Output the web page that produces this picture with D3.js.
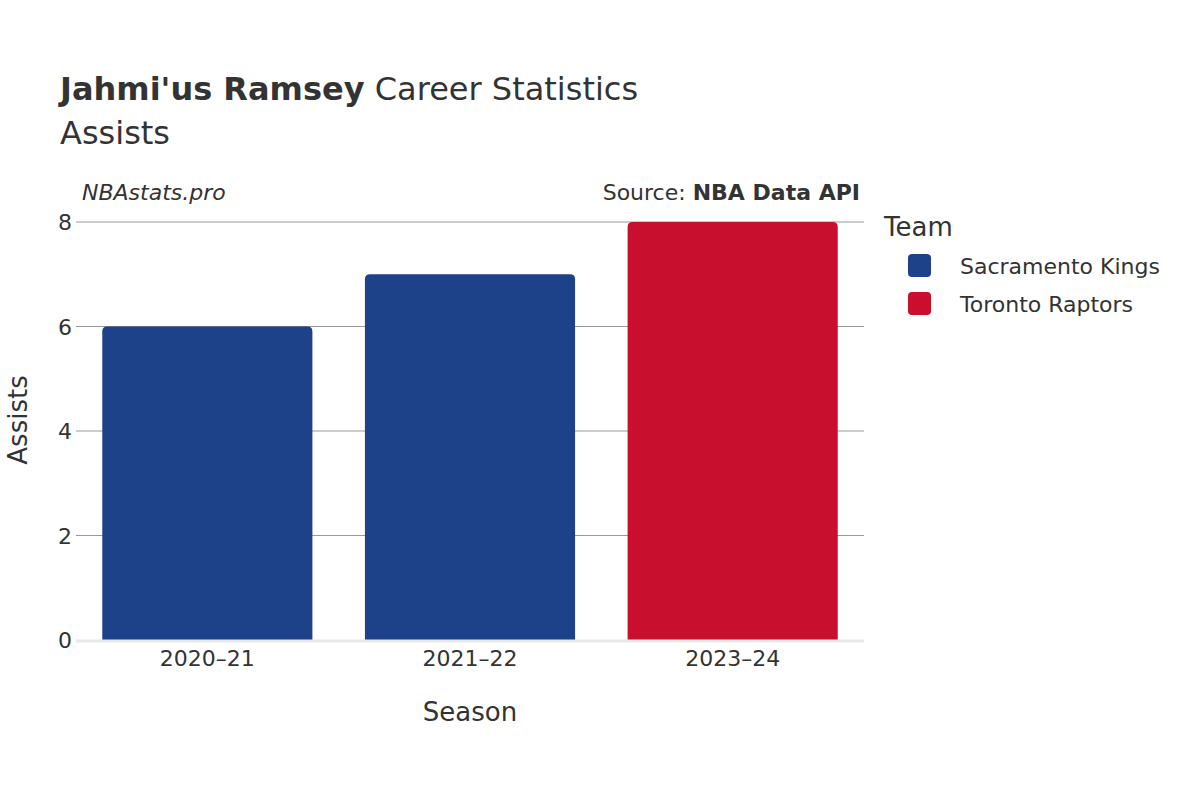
<!DOCTYPE html>
<html><head><meta charset="utf-8">
<script src="https://cdn.jsdelivr.net/npm/d3@7"></script>
<style>body{margin:0;background:#fff}text{font-family:"DejaVu Sans",sans-serif;fill:#333}</style>
</head><body>
<svg id="c" width="1200" height="800"></svg>
<script>
const seasons = ["2020–21","2021–22","2023–24"];
const assists = [6,7,8];
const teams = ["Sacramento Kings","Sacramento Kings","Toronto Raptors"];
const legendTeams = ["Sacramento Kings","Toronto Raptors"];
const teamColors = ["#1d428a","#c8102e"];
const yTicks = [0,2,4,6,8];

const svg = d3.select("#c");
const L=76,R=864,T=222,B=640;
const x = d3.scaleBand().domain(seasons).range([L,R]).paddingInner(0.2).paddingOuter(0.1);
const y = d3.scaleLinear().domain([0,8]).range([B,T]);
const color = d3.scaleOrdinal().domain(legendTeams).range(teamColors);

svg.append("g").selectAll("line").data(yTicks.filter(d=>d>0)).join("line")
 .attr("x1",L).attr("x2",R).attr("y1",d=>y(d)).attr("y2",d=>y(d)).attr("stroke","#999").attr("stroke-width",1);
svg.append("g").selectAll("text").data(yTicks).join("text")
 .attr("x",L-4).attr("y",d=>y(d)+8).attr("text-anchor","end").attr("font-size",22).text(d=>d);

const r=5;
svg.append("g").selectAll("path").data(seasons).join("path")
 .attr("fill",(d,i)=>color(teams[i]))
 .attr("d",(d,i)=>{const x0=x(d),w=x.bandwidth(),y0=y(assists[i]),yb=y(0);
   return `M${x0},${yb}V${y0+r}Q${x0},${y0} ${x0+r},${y0}H${x0+w-r}Q${x0+w},${y0} ${x0+w},${y0+r}V${yb}Z`;});
svg.append("line").attr("x1",L).attr("x2",R).attr("y1",B+1).attr("y2",B+1).attr("stroke","#e8e8e8").attr("stroke-width",3);

svg.append("g").selectAll("text").data(seasons).join("text")
 .attr("x",d=>x(d)+x.bandwidth()/2).attr("y",666).attr("text-anchor","middle").attr("font-size",22).text(d=>d);

svg.append("text").attr("x",470).attr("y",721).attr("text-anchor","middle").attr("font-size",26).text("Season");
svg.append("text").attr("transform","translate(27,420) rotate(-90)").attr("text-anchor","middle").attr("font-size",26).text("Assists");

const t=svg.append("text").attr("x",60).attr("y",100).attr("font-size",32);
t.append("tspan").attr("font-weight","bold").text("Jahmi'us Ramsey");
t.append("tspan").text(" Career Statistics");
svg.append("text").attr("x",60).attr("y",144).attr("font-size",32).text("Assists");
svg.append("text").attr("x",82).attr("y",200).attr("font-size",22).attr("font-style","italic").text("NBAstats.pro");
const s=svg.append("text").attr("x",860).attr("y",200).attr("font-size",22).attr("text-anchor","end");
s.append("tspan").text("Source: ");s.append("tspan").attr("font-weight","bold").text("NBA Data API");

svg.append("text").attr("x",884).attr("y",236).attr("font-size",26).text("Team");
const lg=svg.append("g").selectAll("g").data(legendTeams).join("g").attr("transform",(d,i)=>`translate(908,${266+i*38})`);
lg.append("rect").attr("x",0).attr("y",-12).attr("width",23).attr("height",23).attr("rx",4).attr("fill",d=>color(d));
lg.append("text").attr("x",52).attr("y",8).attr("font-size",22).text(d=>d);
</script></body></html>
